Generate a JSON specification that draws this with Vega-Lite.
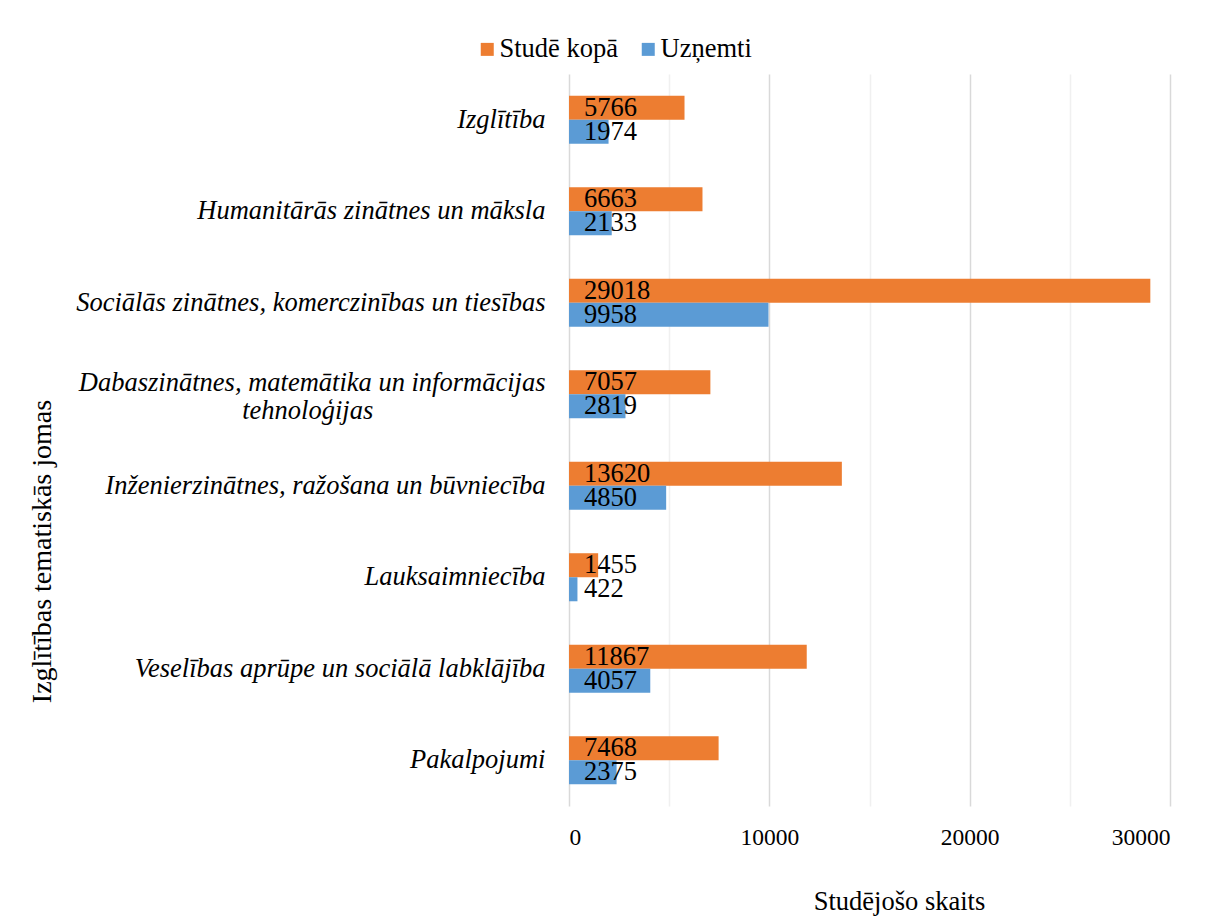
{
  "$schema": "https://vega.github.io/schema/vega-lite/v6.json",
  "width": 601,
  "height": 732,
  "autosize": {"type": "none"},
  "padding": {"left": 569, "top": 74, "right": 35, "bottom": 116},
  "background": "white",
  "config": {
    "view": {"stroke": null},
    "font": "Liberation Serif",
    "axis": {"labelFont": "Liberation Serif", "titleFont": "Liberation Serif", "labelColor": "#000000", "titleColor": "#000000", "titleFontWeight": "normal"},
    "legend": {"labelFont": "Liberation Serif", "labelColor": "#000000"}
  },
  "data": {
    "values": [
      {"joma": "Izglītība", "rinda": "Studē kopā", "skaits": 5766},
      {"joma": "Izglītība", "rinda": "Uzņemti", "skaits": 1974},
      {"joma": "Humanitārās zinātnes un māksla", "rinda": "Studē kopā", "skaits": 6663},
      {"joma": "Humanitārās zinātnes un māksla", "rinda": "Uzņemti", "skaits": 2133},
      {"joma": "Sociālās zinātnes, komerczinības un tiesības", "rinda": "Studē kopā", "skaits": 29018},
      {"joma": "Sociālās zinātnes, komerczinības un tiesības", "rinda": "Uzņemti", "skaits": 9958},
      {"joma": "Dabaszinātnes, matemātika un informācijas tehnoloģijas", "rinda": "Studē kopā", "skaits": 7057},
      {"joma": "Dabaszinātnes, matemātika un informācijas tehnoloģijas", "rinda": "Uzņemti", "skaits": 2819},
      {"joma": "Inženierzinātnes, ražošana un būvniecība", "rinda": "Studē kopā", "skaits": 13620},
      {"joma": "Inženierzinātnes, ražošana un būvniecība", "rinda": "Uzņemti", "skaits": 4850},
      {"joma": "Lauksaimniecība", "rinda": "Studē kopā", "skaits": 1455},
      {"joma": "Lauksaimniecība", "rinda": "Uzņemti", "skaits": 422},
      {"joma": "Veselības aprūpe un sociālā labklājība", "rinda": "Studē kopā", "skaits": 11867},
      {"joma": "Veselības aprūpe un sociālā labklājība", "rinda": "Uzņemti", "skaits": 4057},
      {"joma": "Pakalpojumi", "rinda": "Studē kopā", "skaits": 7468},
      {"joma": "Pakalpojumi", "rinda": "Uzņemti", "skaits": 2375}
    ]
  },
  "encoding": {
    "y": {
      "field": "joma",
      "type": "nominal",
      "sort": [
        "Izglītība",
        "Humanitārās zinātnes un māksla",
        "Sociālās zinātnes, komerczinības un tiesības",
        "Dabaszinātnes, matemātika un informācijas tehnoloģijas",
        "Inženierzinātnes, ražošana un būvniecība",
        "Lauksaimniecība",
        "Veselības aprūpe un sociālā labklājība",
        "Pakalpojumi"
      ],
      "scale": {"paddingInner": 0.475, "paddingOuter": 0.2375},
      "axis": {
        "title": "Izglītības tematiskās jomas",
        "titleFont": "Liberation Serif",
        "titleFontSize": 28,
        "titleAngle": -90,
        "titleAlign": "center",
        "titleBaseline": "middle",
        "titleX": -527,
        "titleY": 477,
        "labelFont": "Liberation Serif",
        "labelFontSize": 26.5,
        "labelFontStyle": "italic",
        "labelPadding": 24,
        "labelLimit": 0,
        "labelLineHeight": 28,
        "labelOffset": {"condition": {"test": "datum.value == 'Dabaszinātnes, matemātika un informācijas tehnoloģijas'", "value": -11}, "value": 0},
        "labelExpr": "datum.value == 'Dabaszinātnes, matemātika un informācijas tehnoloģijas' ? ['Dabaszinātnes, matemātika un informācijas', pad('tehnoloģijas', 38, '\u00a0') + '\u200b'] : datum.value",
        "domain": false,
        "ticks": false
      }
    },
    "yOffset": {
      "field": "rinda",
      "type": "nominal",
      "sort": ["Studē kopā", "Uzņemti"],
      "scale": {"paddingInner": 0, "paddingOuter": 0}
    }
  },
  "layer": [
    {
      "mark": {"type": "bar"},
      "encoding": {
        "x": {
          "field": "skaits",
          "type": "quantitative",
          "scale": {"domain": [0, 30000], "nice": false},
          "axis": {
            "title": "Studējošo skaits",
            "titleFont": "Liberation Serif",
            "titleFontSize": 26.5,
            "titleAlign": "center",
            "titleBaseline": "alphabetic",
            "titleX": 330,
            "titleY": 103,
            "values": [0, 5000, 10000, 15000, 20000, 25000, 30000],
            "format": "d",
            "labelExpr": "datum.value % 10000 === 0 ? datum.label : ''",
            "labelFont": "Liberation Serif",
            "labelFontSize": 23.5,
            "labelPadding": 19,
            "grid": true,
            "gridColor": {"condition": {"test": "datum.value % 10000 === 0", "value": "#d9d9d9"}, "value": "#f0f0f0"},
            "gridWidth": 1.5,
            "domain": false,
            "ticks": false
          }
        },
        "color": {
          "field": "rinda",
          "type": "nominal",
          "scale": {"domain": ["Studē kopā", "Uzņemti"], "range": ["#ED7D31", "#5B9BD5"]},
          "legend": {
            "orient": "none",
            "legendX": -95,
            "legendY": -38,
            "direction": "horizontal",
            "title": null,
            "symbolType": "square",
            "symbolSize": 169,
            "symbolStrokeWidth": 0,
            "labelFont": "Liberation Serif",
            "labelFontSize": 26.5,
            "labelOffset": -1,
            "columnPadding": 17
          }
        }
      }
    },
    {
      "mark": {"type": "text", "align": "left", "baseline": "middle", "dx": 15, "fontSize": 26.5, "font": "Liberation Serif", "color": "#000000"},
      "encoding": {
        "x": {"datum": 0},
        "text": {"field": "skaits", "type": "quantitative", "format": "d"}
      }
    }
  ]
}
